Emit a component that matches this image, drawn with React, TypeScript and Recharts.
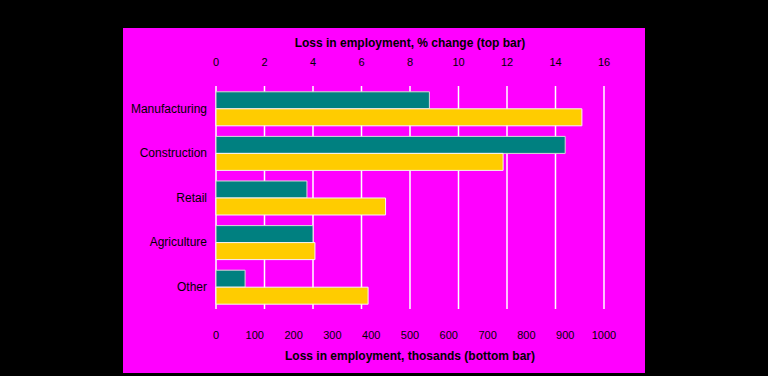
import React from 'react';
import { BarChart, Bar, XAxis, YAxis, CartesianGrid } from 'recharts';

const categories = ['Manufacturing', 'Construction', 'Retail', 'Agriculture', 'Other'];
const pctChange = [8.8, 14.4, 3.75, 4.0, 1.2];
const thousands = [943, 740, 437, 255, 392];
const pctTicks = [0, 2, 4, 6, 8, 10, 12, 14, 16];
const kTicks = [0, 100, 200, 300, 400, 500, 600, 700, 800, 900, 1000];

const data = categories.map((c, i) => ({ name: c, pct: pctChange[i], k: thousands[i] }));

const font = '"Liberation Sans", Arial, sans-serif';

export default function App() {
  return (
    <div style={{ position: 'absolute', left: 0, top: 0, width: 768, height: 376, background: '#000' }}>
      <div style={{ position: 'absolute', left: 123, top: 28, width: 522, height: 345, background: '#FF00FF' }} />
      <div style={{ position: 'absolute', left: 0, top: 0 }}>
        <BarChart
          width={768}
          height={376}
          data={data}
          layout="vertical"
          margin={{ top: 28, right: 164, bottom: 3, left: 123 }}
          barCategoryGap="13%"
          barGap={0}
        >
          <CartesianGrid horizontal={false} stroke="#ffffff" strokeWidth={1.5} xAxisId="pct" />
          <XAxis
            xAxisId="pct"
            orientation="top"
            type="number"
            domain={[0, 16]}
            ticks={pctTicks}
            height={58}
            axisLine={false}
            tickLine={false}
            tickMargin={14}
            tick={{ fill: '#000', fontSize: 11, fontFamily: font }}
            label={{ value: 'Loss in employment, % change (top bar)', position: 'insideTop', offset: 10, fill: '#000', fontSize: 12, fontWeight: 'bold', fontFamily: font }}
          />
          <XAxis
            xAxisId="k"
            orientation="bottom"
            type="number"
            domain={[0, 1000]}
            ticks={kTicks}
            height={64}
            axisLine={false}
            tickLine={false}
            tickMargin={16}
            tick={{ fill: '#000', fontSize: 11, fontFamily: font }}
            label={{ value: 'Loss in employment, thosands (bottom bar)', position: 'insideBottom', offset: 13, fill: '#000', fontSize: 12, fontWeight: 'bold', fontFamily: font }}
          />
          <YAxis
            type="category"
            dataKey="name"
            width={93}
            axisLine={false}
            tickLine={false}
            tickMargin={3}
            tick={{ fill: '#000', fontSize: 12, fontFamily: font }}
          />
          <Bar dataKey="pct" xAxisId="pct" fill="#008080" stroke="#d8d8d8" strokeWidth={1} isAnimationActive={false} />
          <Bar dataKey="k" xAxisId="k" fill="#FFCC00" stroke="#f4f4f4" strokeWidth={1} isAnimationActive={false} />
        </BarChart>
      </div>
    </div>
  );
}
